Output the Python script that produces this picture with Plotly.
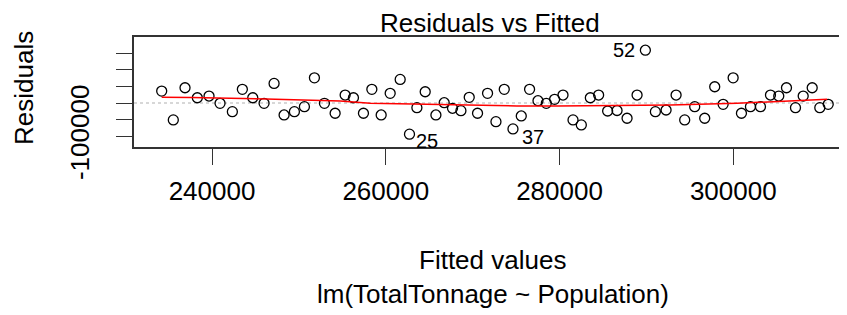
import plotly.graph_objects as go

# Fitted values (x) and residuals (y)
fitted = [234205, 235542, 236890, 238307, 239654, 240922, 242339, 243491, 244689, 245990,
          247142, 248294, 249481, 250633, 251785, 252937, 254170, 255322, 256278, 257430,
          258397, 259469, 260506, 261658, 262729, 263582, 264538, 265770, 266726, 267683,
          268650, 269606, 270563, 271715, 272682, 273638, 274641, 275597, 276553, 277521,
          278477, 279433, 280401, 281553, 282509, 283546, 284502, 285539, 286622, 287774,
          288926, 289882, 291034, 292266, 293418, 294409, 295561, 296713, 297865, 298833,
          299985, 300941, 301978, 303130, 304282, 305238, 306125, 307162, 308049, 309086,
          309961, 310929]
residuals = [36000, -51000, 45900, 15900, 21000, -900, -26100, 41100, 15900, -900,
             59100, -36000, -26100, -11100, 75900, -900, -30900, 24000, 15900, -30900,
             41100, -36000, 29100, 71100, -93900, -14100, 33900, -36000, 900, -15900,
             -23100, 17100, -30900, 29100, -56100, 41100, -78000, -39000, 41100, 6900,
             -900, 11100, 24000, -51000, -66000, 15900, 24000, -24000, -22500, -45900,
             24000, 159000, -26100, -21000, 24000, -51000, -11100, -45900, 48900, -3900,
             75900, -30900, -11100, -11100, 24000, 21000, 45900, -14100, 21000, 45900,
             -14100, -3900]

# Smoother (lowess)
smooth_x = [234205, 237661, 246221, 254746, 258202, 263582, 275101, 279710, 284894,
            292762, 300445, 307738, 310813]
smooth_y = [17100, 16500, 12000, 6000, -900, -3900, -9000, -9000, -7500,
            -6000, -900, 6000, 11100]

# Labelled observations (1-based index)
labelled = [25, 37, 52]

x_ticks = [240000, 260000, 280000, 300000]
x_ticktext = ["240000", "260000", "280000", "300000"]
y_ticks = [-100000, -50000, 0, 50000, 100000, 150000]
y_ticktext = ["-100000", "", "", "", "", ""]

FONT = "Liberation Sans, Arial, sans-serif"

fig = go.Figure()

fig.add_trace(go.Scatter(
    x=fitted, y=residuals, mode="markers",
    marker=dict(symbol="circle-open", size=10, color="black", line=dict(width=1.3, color="black")),
    showlegend=False, hoverinfo="x+y"))

fig.add_trace(go.Scatter(
    x=smooth_x, y=smooth_y, mode="lines",
    line=dict(color="#FF0000", width=1.5),
    showlegend=False, hoverinfo="skip"))

fig.add_hline(y=0, line=dict(color="#b0b0b0", width=1.2, dash="dot"), layer="below")

shifts = {25: (18, -7), 37: (20, -8), 52: (-21, 0)}
for idx in labelled:
    xs, ys = shifts[idx]
    fig.add_annotation(x=fitted[idx - 1], y=residuals[idx - 1], text=str(idx),
                       showarrow=False, xshift=xs, yshift=ys,
                       font=dict(family=FONT, size=20, color="black"))

# page body has an 8px margin: figure pixel = window pixel - 8
OFF = 8
W, H = 847 - OFF, 315 - OFF
L, R, T = 134 - OFF, 0, 37 - OFF
B = H - (147 - OFF)
pw, ph = W - L - R, H - T - B

def px_x(p):
    return (p - OFF - L) / pw

def px_y(p):
    return (H - B - (p - OFF)) / ph

fig.add_annotation(text="Residuals vs Fitted", xref="paper", yref="paper",
                   x=px_x(490), y=px_y(23), xanchor="center", yanchor="middle",
                   showarrow=False, font=dict(family=FONT, size=26, color="black"))
fig.add_annotation(text="Fitted values", xref="paper", yref="paper",
                   x=px_x(493), y=px_y(260), xanchor="center", yanchor="middle",
                   showarrow=False, font=dict(family=FONT, size=26, color="black"))
fig.add_annotation(text="lm(TotalTonnage ~ Population)", xref="paper", yref="paper",
                   x=px_x(493), y=px_y(294), xanchor="center", yanchor="middle",
                   showarrow=False, font=dict(family=FONT, size=26, color="black"))
fig.add_annotation(text="Residuals", xref="paper", yref="paper",
                   x=px_x(24), y=px_y(88), xanchor="center", yanchor="middle", textangle=-90,
                   showarrow=False, font=dict(family=FONT, size=26, color="black"))

fig.update_layout(
    width=W, height=H,
    margin=dict(l=L, r=R, t=T, b=B, pad=0),
    paper_bgcolor="white", plot_bgcolor="white",
    font=dict(family=FONT, size=26, color="black"),
    showlegend=False,
)
fig.update_xaxes(
    range=[231017, 313092], tickmode="array", tickvals=x_ticks, ticktext=x_ticktext,
    ticks="outside", ticklen=16, tickwidth=1.3, tickcolor="#333333",
    ticklabelstandoff=4,
    showline=True, linecolor="#333333", linewidth=1.5, mirror=True,
    showgrid=False, zeroline=False, tickfont=dict(family=FONT, size=26, color="black"))
fig.update_yaxes(
    range=[-132500, 198800], tickmode="array", tickvals=y_ticks, ticktext=y_ticktext,
    ticks="outside", ticklen=16, tickwidth=1.3, tickcolor="#333333", tickangle=-90,
    ticklabelstandoff=17,
    showline=True, linecolor="#333333", linewidth=1.5, mirror=False,
    showgrid=False, zeroline=False, tickfont=dict(family=FONT, size=26, color="black"))

fig.write_html("out.html")
